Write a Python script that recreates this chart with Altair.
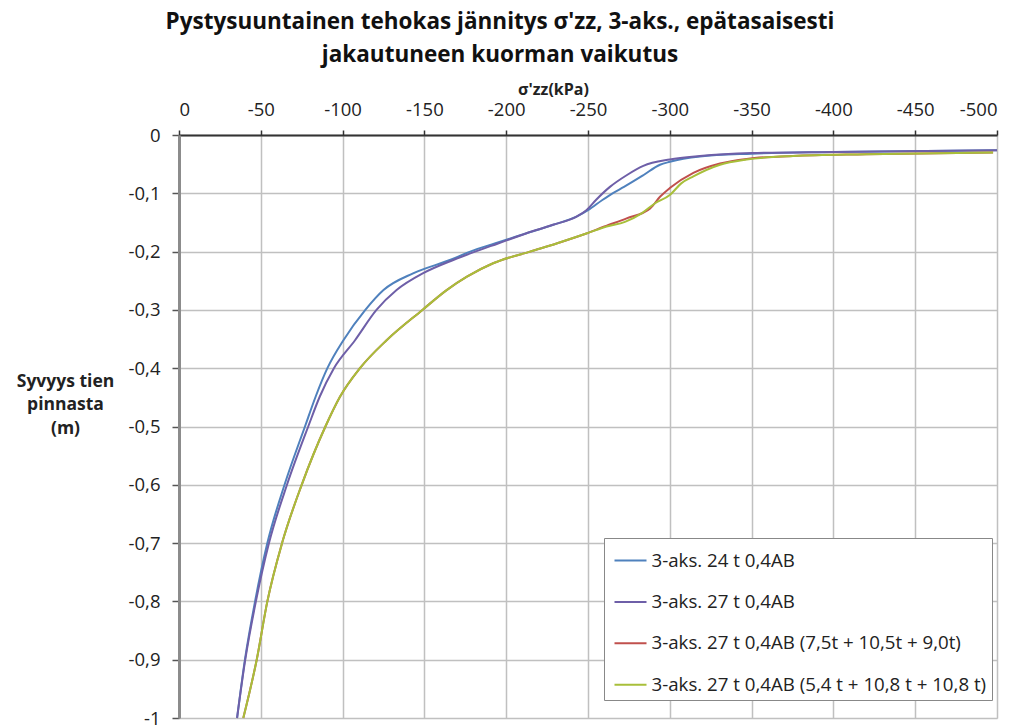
import altair as alt
import pandas as pd

series_names = [
    "3-aks. 24 t 0,4AB",
    "3-aks. 27 t 0,4AB",
    "3-aks. 27 t 0,4AB (7,5t + 10,5t + 9,0t)",
    "3-aks. 27 t 0,4AB (5,4 t + 10,8 t + 10,8 t)",
]
series_colors = ["#4F81BD", "#6E5FA8", "#C0504D", "#A8BF3A"]

# depth (m) and vertical effective stress (kPa) per series
s24_depth = [-1.0, -0.9, -0.8, -0.7, -0.6, -0.5, -0.449, -0.4, -0.352, -0.3, -0.266, -0.237,
             -0.214, -0.2, -0.186, -0.169, -0.154, -0.14, -0.129, -0.111, -0.1,
             -0.089, -0.069, -0.051, -0.046, -0.037, -0.032, -0.029, -0.026]
s24_stress = [-35.5, -40.3, -46.5, -54.0, -64.5, -77.0, -83.5, -90.7, -100.5, -113.9, -125.0, -143.4,
              -166.0, -178.0, -193.0, -212.0, -228.7, -243.0, -250.0, -259.0, -265.0,
              -272.0, -283.8, -294.0, -300.0, -318.4, -350.0, -400.0, -500.0]

s27_depth = [-1.0, -0.9, -0.8, -0.7, -0.6, -0.5, -0.449, -0.4, -0.352, -0.3, -0.266, -0.237,
             -0.214, -0.2, -0.186, -0.169, -0.154, -0.14, -0.129, -0.111, -0.089, -0.069,
             -0.053, -0.042, -0.036, -0.031, -0.029, -0.026]
s27_stress = [-35.5, -40.5, -47.0, -55.0, -66.0, -79.0, -86.0, -94.7, -107.6, -120.7, -133.0, -149.3,
              -168.0, -181.0, -195.0, -212.0, -228.7, -243.0, -249.0, -255.0, -263.4, -273.6,
              -283.8, -300.0, -318.4, -350.0, -400.0, -500.0]

s27a_depth = [-1.0, -0.9, -0.8, -0.7, -0.6, -0.5, -0.449, -0.4, -0.352, -0.3, -0.266, -0.243,
              -0.22, -0.2, -0.186, -0.169, -0.157, -0.143, -0.126, -0.106, -0.091, -0.065,
              -0.049, -0.041, -0.036, -0.033, -0.030]
s27a_stress = [-39.3, -47.5, -54.0, -63.0, -75.0, -89.5, -98.4, -110.6, -126.9, -148.8, -163.6, -176.0,
               -192.0, -214.5, -230.8, -249.0, -260.0, -273.6, -288.0, -294.0, -300.0, -314.4,
               -330.7, -347.0, -375.0, -420.0, -497.6]

s27b_depth = [-1.0, -0.9, -0.8, -0.7, -0.6, -0.5, -0.449, -0.4, -0.352, -0.3, -0.266, -0.243,
              -0.22, -0.2, -0.186, -0.169, -0.157, -0.149, -0.134, -0.117, -0.103, -0.083,
              -0.071, -0.051, -0.042, -0.036, -0.033, -0.030]
s27b_stress = [-39.3, -47.5, -54.0, -63.0, -75.0, -89.5, -98.4, -110.6, -126.9, -148.8, -163.6, -176.0,
               -192.0, -214.5, -230.8, -249.0, -261.4, -272.6, -283.0, -291.0, -300.0, -307.0,
               -314.4, -330.7, -347.0, -375.5, -420.0, -497.6]

x_ticks = [0, -50, -100, -150, -200, -250, -300, -350, -400, -450, -500]
y_ticks = [0, -0.1, -0.2, -0.3, -0.4, -0.5, -0.6, -0.7, -0.8, -0.9, -1]

rows = []
for name, dep, st in zip(series_names,
                         [s24_depth, s27_depth, s27a_depth, s27b_depth],
                         [s24_stress, s27_stress, s27a_stress, s27b_stress]):
    for i, (d, s) in enumerate(zip(dep, st)):
        rows.append({"series": name, "depth": d, "stress": s, "i": i})
df = pd.DataFrame(rows)

FONT = "Open Sans"

chart = alt.Chart(df).mark_line(strokeWidth=2, interpolate="monotone").encode(
    x=alt.X("stress:Q",
            scale=alt.Scale(domain=[0, -500], nice=False, zero=False),
            axis=alt.Axis(orient="top", values=x_ticks, title="σ'zz(kPa)",
                          labelExpr="toString(datum.value)",
                          labelFontSize=18.5, labelFont=FONT, labelColor="#222",
                          labelPadding=11, tickSize=5, tickColor="#333", tickWidth=1.5,
                          domainColor="#333", domainWidth=2,
                          gridColor="#c0c0c0", gridWidth=1.5,
                          titleFont=FONT, titleFontSize=16, titleFontWeight="bold",
                          titleColor="#222", titlePadding=3, titleX=374)),
    y=alt.Y("depth:Q",
            scale=alt.Scale(domain=[-1, 0], nice=False, zero=False),
            axis=alt.Axis(values=y_ticks,
                          labelExpr="replace(toString(datum.value), '.', ',')",
                          title=["Syvyys tien", "pinnasta", "(m)"],
                          labelFontSize=18.5, labelFont=FONT, labelColor="#222",
                          labelPadding=12, tickSize=7, tickColor="#555", tickWidth=1.5,
                          domainColor="#8c8c8c", domainWidth=3,
                          gridColor="#c0c0c0", gridWidth=1.5,
                          titleFont=FONT, titleFontSize=17.5, titleFontWeight="bold",
                          titleColor="#222", titleAngle=0, titleAlign="center",
                          titleBaseline="middle", titleX=-114, titleY=246,
                          titleLineHeight=23.5)),
    color=alt.Color("series:N",
                    scale=alt.Scale(domain=series_names, range=series_colors),
                    sort=series_names,
                    legend=alt.Legend(orient="none", legendX=425, legendY=403, title=None,
                                      symbolType="stroke", symbolSize=1024,
                                      symbolStrokeWidth=2, symbolOffset=4,
                                      labelFont=FONT, labelFontSize=18.7, labelColor="#222",
                                      labelLimit=500, rowPadding=14.4, padding=5.5,
                                      labelOffset=4, strokeColor="#888",
                                      fillColor="white")),
    order=alt.Order("i:Q"),
).properties(
    width=818,
    height=583,
    padding={"left": 171, "top": 127, "right": 22, "bottom": 10},
    autosize=alt.AutoSizeParams(type="none"),
    title=alt.TitleParams(
        text=["Pystysuuntainen tehokas jännitys σ'zz, 3-aks., epätasaisesti",
              "jakautuneen kuorman vaikutus"],
        font=FONT, fontSize=22.5, fontWeight="bold", color="#111",
        anchor="middle", dx=-88, offset=15, lineHeight=33),
).configure_view(
    stroke="#777", strokeWidth=2
).configure(background="white")

chart.save("out.html", embed_options={"renderer": "svg", "actions": False})
